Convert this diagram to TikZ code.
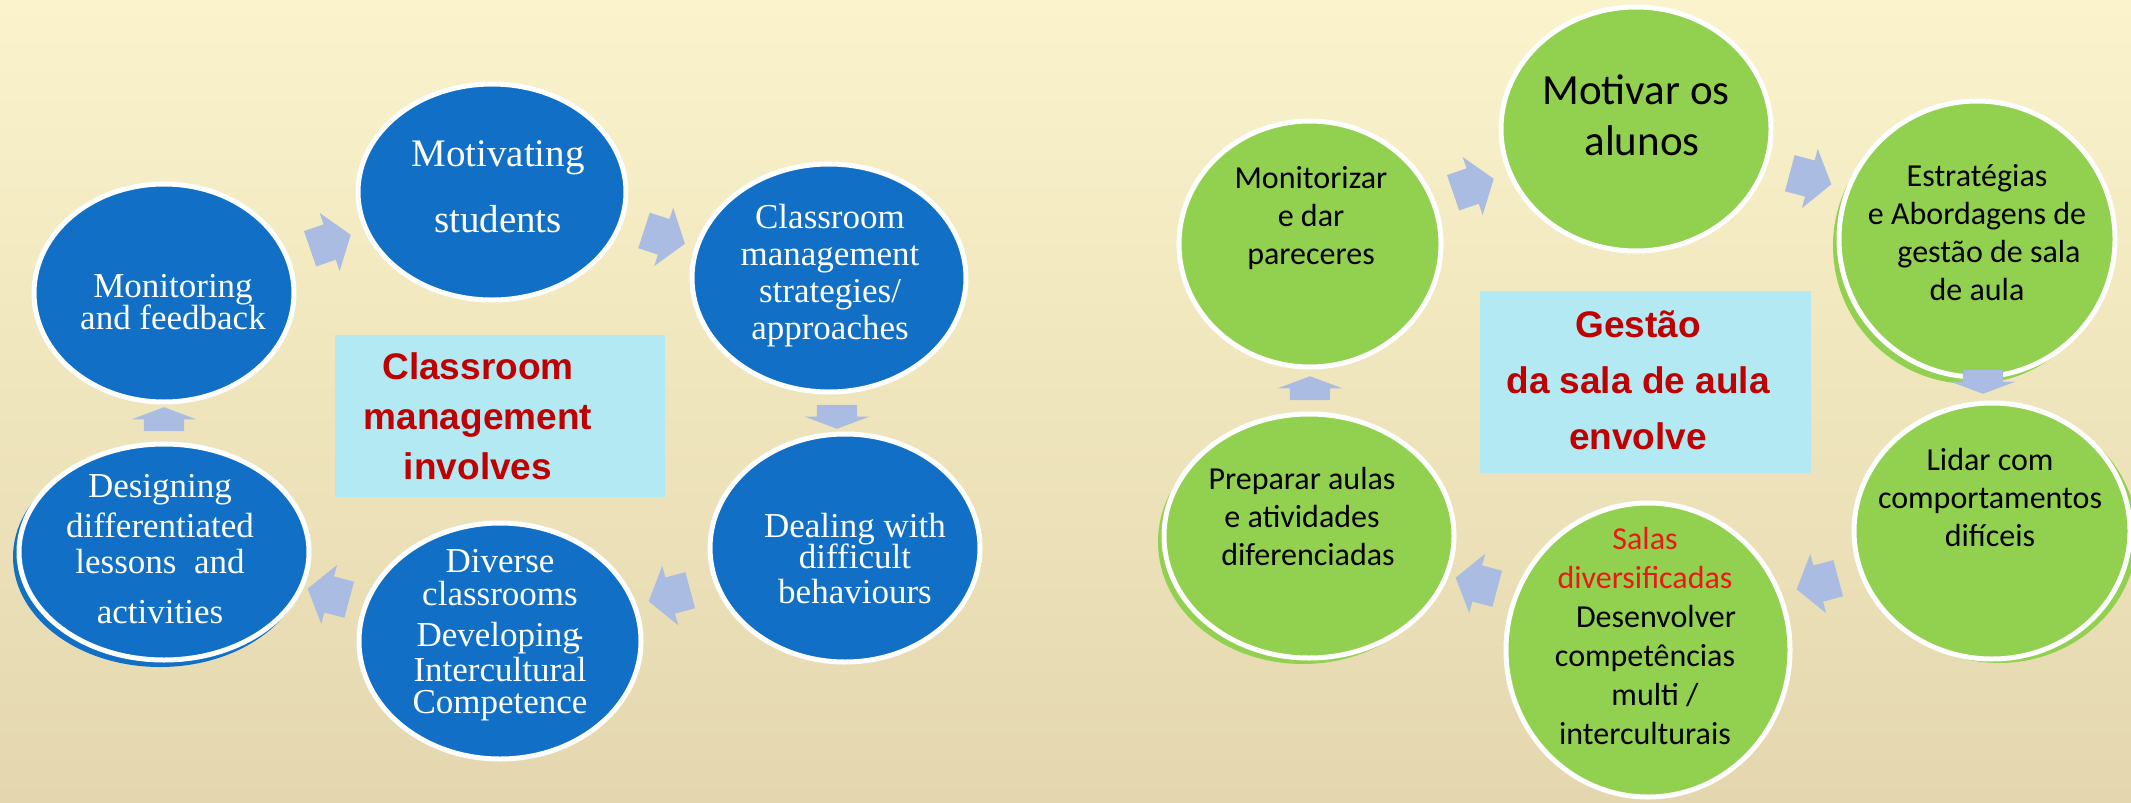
\documentclass[tikz,border=0pt]{standalone}
\usepackage{fontspec}
\usepackage{tikz}
\usetikzlibrary{shapes.geometric,shapes.arrows}
\newfontfamily\leftfont{Liberation Serif}
\newfontfamily\rightfont{Carlito}
\newfontfamily\titlefont{Liberation Sans}
\definecolor{discblue}{RGB}{17,112,198}
\definecolor{discgreen}{RGB}{146,208,80}
\definecolor{arrowblue}{RGB}{171,188,226}
\definecolor{boxcyan}{RGB}{178,233,242}
\definecolor{titlered}{RGB}{192,0,0}
\definecolor{salared}{RGB}{236,24,24}
\definecolor{bgtop}{RGB}{250,243,203}
\definecolor{bgmid}{RGB}{245,235,196}
\definecolor{bgbottom}{RGB}{228,215,175}

\begin{document}
\begin{tikzpicture}[x=1pt,y=-1pt,
	disc/.style={ellipse, draw=white, line width=5pt, inner sep=0pt},
	bluedisc/.style={disc, fill=discblue},
	greendisc/.style={disc, fill=discgreen},
	discshadow/.style={ellipse, inner sep=0pt},
	flowarrow/.style={single arrow, fill=arrowblue, inner xsep=0pt, inner ysep=18.5pt,
		minimum height=43pt, single arrow head extend=12pt, single arrow tip angle=108},
	flatarrow/.style={single arrow, fill=arrowblue, inner xsep=0pt, inner ysep=20pt,
		minimum height=24pt, single arrow head extend=12pt, single arrow tip angle=139},
	titlebox/.style={fill=boxcyan, inner sep=0pt},
	lefttext/.style={anchor=north, inner sep=0pt, align=center, text=white,
		font=\leftfont\fontsize{35}{37}\selectfont},
	righttext/.style={anchor=north, inner sep=0pt, align=center, text=black,
		font=\rightfont\fontsize{32}{38}\selectfont},
	titletext/.style={anchor=north, inner sep=0pt, align=center, text=titlered}
	]
	\useasboundingbox (0,0) rectangle (2131,803);
	\shade[top color=bgtop, middle color=bgmid, bottom color=bgbottom] (0,0) rectangle (2131,803);

	% left cycle
	\node[bluedisc, minimum width=268pt, minimum height=216pt] (mot) at (492,192) {};
	\node[bluedisc, minimum width=274pt, minimum height=228pt] (cms) at (829,278) {};
	\node[bluedisc, minimum width=270pt, minimum height=228pt] (dea) at (845,548) {};
	\node[bluedisc, minimum width=282pt, minimum height=236pt] (div) at (500,641) {};
	\node[discshadow, fill=discblue, minimum width=294pt, minimum height=220pt] (dessh) at (160,557) {};
	\node[bluedisc, minimum width=290pt, minimum height=216pt] (des) at (164,552) {};
	\node[bluedisc, minimum width=260pt, minimum height=218pt] (mon) at (164,293) {};

	\node[titlebox, minimum width=330pt, minimum height=162pt] (lbox) at (500,416) {};
	\node[titletext, font=\titlefont\bfseries\fontsize{37}{50}\selectfont] (ltitle) at (478,344)
		{\strut Classroom\\ management\\ involves};

	\node[lefttext, font=\leftfont\fontsize{39}{37}\selectfont] (tmot) at (498,140) {\strut Motivating\\[27pt] students};
	\node[lefttext] (tcms) at (830,202) {\strut Classroom\\ management\\ strategies/\\ approaches};
	\node[lefttext] (tdea) at (855,511) {\strut Dealing with\\[-6pt] difficult\\[-2pt] behaviours};
	\node[lefttext] (tdiv) at (500,546) {\strut Diverse\\[-4pt] classrooms\\[4pt] Developing\kern-8pt-\\[-2pt] Intercultural\\[-5pt] Competence};
	\node[lefttext] (tdes) at (160,471) {\strut Designing\\[3pt] differentiated\\[-1pt] lessons\ \ and\\[13pt] activities};
	\node[lefttext] (tmon) at (173,271) {\strut Monitoring\\[-5pt] and feedback};

	\node[flowarrow, rotate=19] (a1) at (324,244) {};
	\node[flowarrow, rotate=-18] (a2) at (658,235) {};
	\node[flatarrow, rotate=-90] (a3) at (837,413) {};
	\node[flowarrow, rotate=195] (a4) at (676,594) {};
	\node[flowarrow, rotate=165] (a5) at (335,596) {};
	\node[flatarrow, rotate=90] (a6) at (164,423) {};

	% right cycle
	\node[greendisc, minimum width=270pt, minimum height=244pt] (mov) at (1636,129) {};
	\node[discshadow, fill=discgreen, minimum width=276pt, minimum height=276pt] (estsh) at (1971,246) {};
	\node[greendisc, minimum width=276pt, minimum height=276pt] (est) at (1977,239) {};
	\node[discshadow, fill=discgreen, minimum width=276pt, minimum height=256pt] (lidsh) at (1999,535) {};
	\node[greendisc, minimum width=276pt, minimum height=256pt] (lid) at (1992,531) {};
	\node[greendisc, minimum width=284pt, minimum height=294pt] (sal) at (1648,650) {};
	\node[discshadow, fill=discgreen, minimum width=290pt, minimum height=244pt] (presh) at (1303,542) {};
	\node[greendisc, minimum width=290pt, minimum height=244pt] (pre) at (1309,536) {};
	\node[greendisc, minimum width=262pt, minimum height=246pt] (mtz) at (1310,244) {};

	\node[titlebox, minimum width=331pt, minimum height=182pt] (rbox) at (1645.5,382) {};
	\node[titletext, font=\titlefont\bfseries\fontsize{37}{56}\selectfont] (rtitle) at (1638,298)
		{\strut Gestão\\ da sala de aula\\ envolve};

	\node[righttext, font=\rightfont\fontsize{43}{51}\selectfont] (tmov) at (1636,69) {\strut Motivar os\\ \hspace{12pt}alunos};
	\node[righttext] (tmtz) at (1311,162) {\strut Monitorizar\\ e dar\\ pareceres};
	\node[righttext] (test) at (1977,160) {\strut Estratégias\\ e Abordagens de\\ \hspace{24pt}gestão de sala\\ de aula};
	\node[righttext] (tlid) at (1990,444) {\strut Lidar com\\ comportamentos\\ difíceis};
	\node[righttext, font=\rightfont\fontsize{32}{39}\selectfont] (tsal) at (1645,522)
		{\strut\textcolor{salared}{Salas}\\ \textcolor{salared}{diversificadas}\\ \hspace{22pt}Desenvolver\\ competências\\ \hspace{20pt}multi /\\ interculturais};
	\node[righttext] (tpre) at (1302,463) {\strut Preparar aulas\\ e atividades\\ \hspace{12pt}diferenciadas};

	\node[flowarrow, rotate=19] (b1) at (1467,188) {};
	\node[flowarrow, rotate=-15] (b2) at (1804,177) {};
	\node[flatarrow, rotate=-90] (b3) at (1983,378) {};
	\node[flowarrow, rotate=195] (b4) at (1824,582) {};
	\node[flowarrow, rotate=165] (b5) at (1483,585) {};
	\node[flatarrow, rotate=90] (b6) at (1310,392) {};
\end{tikzpicture}
\end{document}
